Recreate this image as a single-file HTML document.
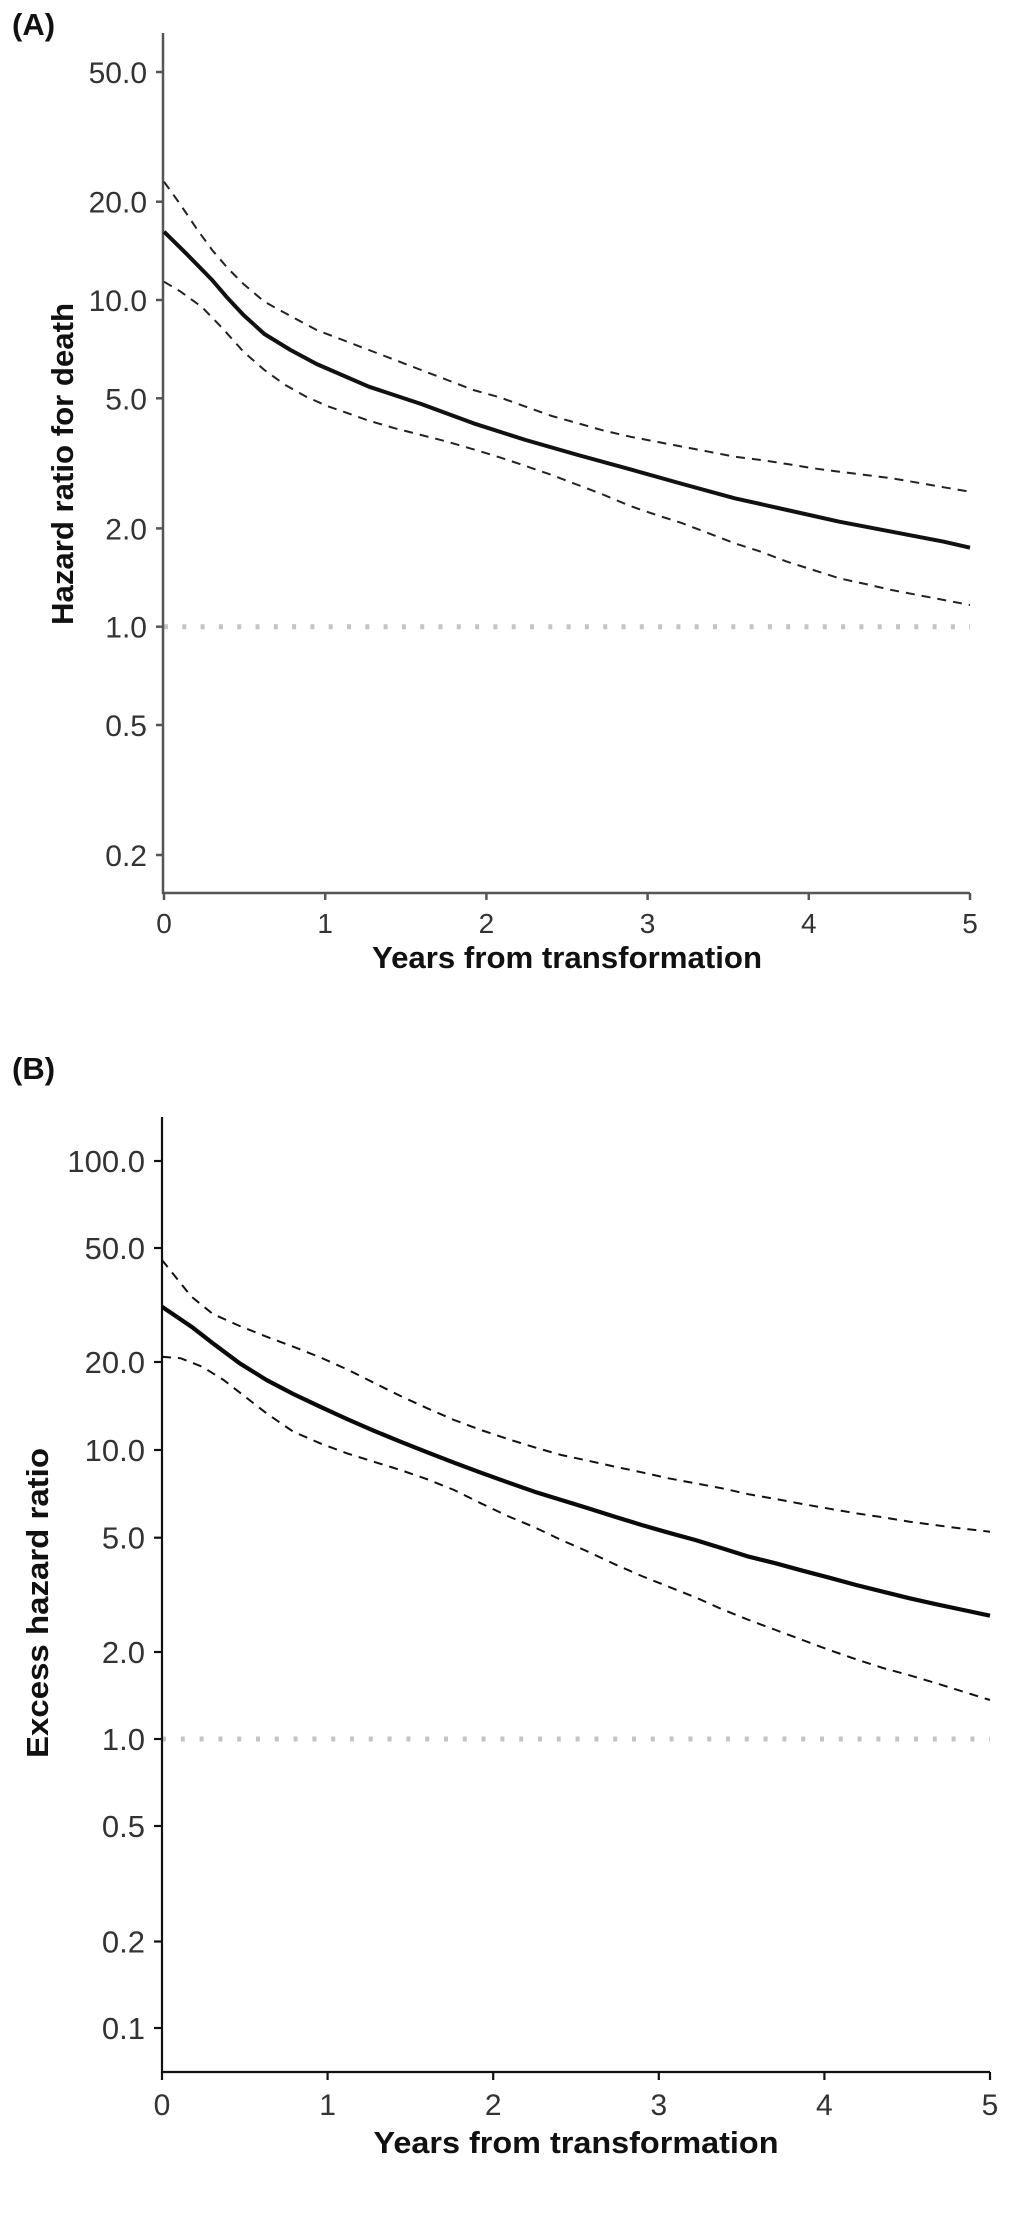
<!DOCTYPE html>
<html>
<head>
<meta charset="utf-8">
<style>
  html, body { margin: 0; padding: 0; background: #fff; }
  svg { display: block; }
  text { font-family: "Liberation Sans", Arial, sans-serif; }
</style>
</head>
<body>
<svg width="1012" height="2214" viewBox="0 0 1012 2214" xmlns="http://www.w3.org/2000/svg">
  <rect width="1012" height="2214" fill="#fff"/>

  <!-- ================= PANEL A ================= -->
  <text x="12" y="35" font-size="31" font-weight="bold" fill="#111">(A)</text>

  <!-- reference line at 1.0 -->
  <line x1="164" y1="626.7" x2="970" y2="626.7" stroke="#c4c4c4" stroke-width="5" stroke-dasharray="4 14.3"/>

  <!-- axes -->
  <g stroke="#555" stroke-width="2.5" fill="none">
    <line x1="163" y1="33" x2="163" y2="894"/>
    <line x1="162" y1="893" x2="970" y2="893"/>
    <!-- y ticks -->
    <line x1="156" y1="72" x2="163" y2="72"/>
    <line x1="156" y1="201.7" x2="163" y2="201.7"/>
    <line x1="156" y1="300" x2="163" y2="300"/>
    <line x1="156" y1="398.3" x2="163" y2="398.3"/>
    <line x1="156" y1="528.4" x2="163" y2="528.4"/>
    <line x1="156" y1="626.7" x2="163" y2="626.7"/>
    <line x1="156" y1="725" x2="163" y2="725"/>
    <line x1="156" y1="855" x2="163" y2="855"/>
    <!-- x ticks -->
    <line x1="164" y1="893" x2="164" y2="900"/>
    <line x1="325.2" y1="893" x2="325.2" y2="900"/>
    <line x1="486.4" y1="893" x2="486.4" y2="900"/>
    <line x1="647.6" y1="893" x2="647.6" y2="900"/>
    <line x1="808.8" y1="893" x2="808.8" y2="900"/>
    <line x1="970" y1="893" x2="970" y2="900"/>
  </g>

  <!-- y tick labels -->
  <g font-size="30" fill="#333" text-anchor="end">
    <text x="147" y="83">50.0</text>
    <text x="147" y="212.7">20.0</text>
    <text x="147" y="311">10.0</text>
    <text x="147" y="409.3">5.0</text>
    <text x="147" y="539.4">2.0</text>
    <text x="147" y="637.7">1.0</text>
    <text x="147" y="736">0.5</text>
    <text x="147" y="866">0.2</text>
  </g>
  <!-- x tick labels -->
  <g font-size="28" fill="#333" text-anchor="middle">
    <text x="164" y="933">0</text>
    <text x="325.2" y="933">1</text>
    <text x="486.4" y="933">2</text>
    <text x="647.6" y="933">3</text>
    <text x="808.8" y="933">4</text>
    <text x="970" y="933">5</text>
  </g>
  <text x="567" y="968" font-size="31" font-weight="bold" fill="#111" text-anchor="middle" textLength="390" lengthAdjust="spacingAndGlyphs">Years from transformation</text>
  <text transform="translate(73,464) rotate(-90)" font-size="31" font-weight="bold" fill="#111" text-anchor="middle" textLength="322" lengthAdjust="spacingAndGlyphs">Hazard ratio for death</text>

  <!-- curves A -->
  <polyline fill="none" stroke="#222" stroke-width="2" stroke-dasharray="9 7" points="
    164,181.7 180.7,205 196.4,228.3 212.1,250 227.8,268.3 243.5,284 264.4,301.7 290.5,316 316.6,330
    342.8,340 368.9,350 395,360 421.2,370 447.3,380 473.4,390 499.6,397.3 525.7,406.7 551.8,416
    578,423.3 604.1,430.7 630.2,436.7 656.4,441.7 682.5,446.7 708.7,451.7 734.8,456.7 760.9,460
    787.1,464 813.2,468.3 839.3,471.7 865.5,475 891.6,478.3 917.7,482.7 943.9,487.3 970,491.7"/>
  <polyline fill="none" stroke="#222" stroke-width="2" stroke-dasharray="9 7" points="
    164,281.7 180.7,291.7 201.6,306.7 222.5,328.3 243.5,351.7 264.4,370 285.3,385 306.2,396.7
    327.1,406 348,413.3 368.9,420.7 395,428.3 421.2,435 447.3,441.7 473.4,449.3 499.6,457.3
    525.7,466 551.8,475 578,485 604.1,495 630.2,506 656.4,515 682.5,523.3 708.7,533.3 734.8,543.3
    760.9,551.7 787.1,561.7 813.2,570 839.3,578.3 865.5,584 891.6,590 917.7,595 943.9,600 970,605"/>
  <polyline fill="none" stroke="#111" stroke-width="4" stroke-linejoin="round" points="
    164,231.7 186,253.3 212.1,280 227.8,298.3 243.5,315 264.4,334 290.5,350 316.6,364 368.9,386.7
    421.2,404 473.4,423.3 525.7,440 578,455 630.2,469.3 682.5,484 734.8,498.3 787.1,510 839.3,521.7
    891.6,531.7 943.9,541.7 970,547.7"/>

  <!-- ================= PANEL B ================= -->
  <text x="12" y="1079" font-size="31" font-weight="bold" fill="#111">(B)</text>

  <line x1="162" y1="1739" x2="990" y2="1739" stroke="#c4c4c4" stroke-width="5" stroke-dasharray="4 14.8"/>

  <g stroke="#111" stroke-width="2.2" fill="none">
    <line x1="162" y1="1117" x2="162" y2="2073"/>
    <line x1="161" y1="2072" x2="990" y2="2072"/>
    <!-- y ticks -->
    <line x1="154" y1="1161" x2="162" y2="1161"/>
    <line x1="154" y1="1248" x2="162" y2="1248"/>
    <line x1="154" y1="1362" x2="162" y2="1362"/>
    <line x1="154" y1="1450" x2="162" y2="1450"/>
    <line x1="154" y1="1537.7" x2="162" y2="1537.7"/>
    <line x1="154" y1="1652" x2="162" y2="1652"/>
    <line x1="154" y1="1739" x2="162" y2="1739"/>
    <line x1="154" y1="1826" x2="162" y2="1826"/>
    <line x1="154" y1="1941.5" x2="162" y2="1941.5"/>
    <line x1="154" y1="2028" x2="162" y2="2028"/>
    <!-- x ticks -->
    <line x1="162" y1="2072" x2="162" y2="2080"/>
    <line x1="327.6" y1="2072" x2="327.6" y2="2080"/>
    <line x1="493.2" y1="2072" x2="493.2" y2="2080"/>
    <line x1="658.8" y1="2072" x2="658.8" y2="2080"/>
    <line x1="824.4" y1="2072" x2="824.4" y2="2080"/>
    <line x1="990" y1="2072" x2="990" y2="2080"/>
  </g>

  <g font-size="31" fill="#333" text-anchor="end">
    <text x="145" y="1172">100.0</text>
    <text x="145" y="1259">50.0</text>
    <text x="145" y="1373">20.0</text>
    <text x="145" y="1461">10.0</text>
    <text x="145" y="1548.7">5.0</text>
    <text x="145" y="1663">2.0</text>
    <text x="145" y="1750">1.0</text>
    <text x="145" y="1837">0.5</text>
    <text x="145" y="1952.5">0.2</text>
    <text x="145" y="2039">0.1</text>
  </g>
  <g font-size="30" fill="#333" text-anchor="middle">
    <text x="162" y="2115">0</text>
    <text x="327.6" y="2115">1</text>
    <text x="493.2" y="2115">2</text>
    <text x="658.8" y="2115">3</text>
    <text x="824.4" y="2115">4</text>
    <text x="990" y="2115">5</text>
  </g>
  <text x="576" y="2153" font-size="31" font-weight="bold" fill="#111" text-anchor="middle" textLength="405" lengthAdjust="spacingAndGlyphs">Years from transformation</text>
  <text transform="translate(48,1603) rotate(-90)" font-size="31" font-weight="bold" fill="#111" text-anchor="middle" textLength="310" lengthAdjust="spacingAndGlyphs">Excess hazard ratio</text>

  <!-- curves B -->
  <polyline fill="none" stroke="#111" stroke-width="2" stroke-dasharray="9 7" points="
    162,1260 175.4,1276.7 191.5,1296.7 212.9,1314 239.7,1326 266.5,1336.7 293.3,1346.7 320.1,1357.3
    346.9,1369.3 373.7,1382.7 400.5,1396 427.3,1408.3 454.1,1420 480.9,1430 507.7,1439 534.5,1447.3
    561.3,1455 588.1,1460.7 614.9,1466.7 641.7,1472.3 668.5,1478.3 695.3,1483.3 722.1,1488.3
    748.9,1494.3 775.7,1499 802.5,1504 829.3,1508.7 856.1,1513.3 882.9,1517.3 909.7,1521.7
    936.5,1525.3 963.3,1528.7 990,1531.7"/>
  <polyline fill="none" stroke="#111" stroke-width="2" stroke-dasharray="9 7" points="
    162,1356.7 180.8,1358.3 202.2,1366.7 223.6,1380 245.1,1396.7 266.5,1413.3 293.3,1431.7 320.1,1443.3
    346.9,1453.3 373.7,1461.7 400.5,1470 427.3,1479.3 454.1,1490 480.9,1503.3 507.7,1516 534.5,1527.3
    561.3,1540 588.1,1551.7 614.9,1564.3 641.7,1576 668.5,1586.7 695.3,1597.3 722.1,1609.3 748.9,1620
    775.7,1630 802.5,1640 829.3,1650 856.1,1659.3 882.9,1668 909.7,1675.3 936.5,1683.3 963.3,1691.7 990,1700"/>
  <polyline fill="none" stroke="#0a0a0a" stroke-width="4.2" stroke-linejoin="round" points="
    162,1306.7 191.5,1326.7 212.9,1343.3 239.7,1363.3 266.5,1380 293.3,1394 320.1,1406.7 346.9,1419
    373.7,1430.7 400.5,1441.7 427.3,1452.3 454.1,1462.7 480.9,1472.7 507.7,1482.3 534.5,1491.7
    561.3,1500 588.1,1508.3 614.9,1516.7 641.7,1525 668.5,1532.7 695.3,1540 722.1,1548.3 748.9,1556.7
    775.7,1563.3 802.5,1570.7 829.3,1577.7 856.1,1585 882.9,1591.7 909.7,1598.3 936.5,1604.3
    963.3,1610 990,1615.7"/>
</svg>
</body>
</html>
